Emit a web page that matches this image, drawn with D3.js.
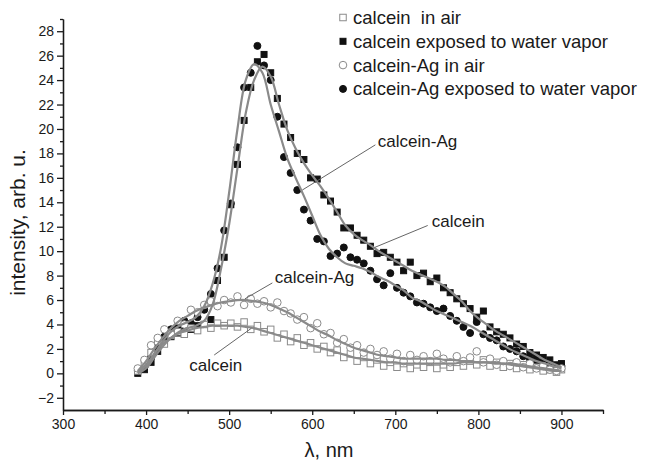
<!DOCTYPE html>
<html>
<head>
<meta charset="utf-8">
<script src="https://cdnjs.cloudflare.com/ajax/libs/d3/7.8.5/d3.min.js"></script>
<style>
  body { margin: 0; background: #fff; }
  svg text { font-family: "Liberation Sans", Arial, sans-serif; fill: #1a1a1a; }
  .axis path, .axis line { stroke: #1a1a1a; stroke-width: 1.3; }
  .axis text { font-size: 14px; }
</style>
</head>
<body>
<div id="chart"></div>
<script>
// measured points (nm) shared by all four spectra
const wavelengths = [390, 398, 406, 414, 422, 430, 438, 446, 454, 462, 470, 478, 486, 494, 502, 510,
  518, 526, 534, 542, 550, 558, 566, 574, 582, 590, 598, 606, 614, 622, 630, 638, 646, 654, 662, 670,
  678, 686, 694, 702, 710, 718, 726, 734, 742, 750, 758, 766, 774, 782, 790, 798, 806, 814, 822, 830,
  838, 846, 854, 862, 870, 878, 886, 894, 900];

const calceinAir = [0.2, 0.8, 1.7, 2.6, 2.4, 3.1, 3.4, 3.2, 3.7, 3.5, 4.0, 3.7, 4.1, 3.9, 4.1, 3.8,
  4.2, 3.6, 3.9, 3.4, 3.6, 2.9, 3.2, 2.6, 2.9, 2.3, 2.5, 2.0, 2.2, 1.7, 1.9, 1.3, 1.6, 1.0, 1.3, 0.8,
  1.1, 0.6, 0.9, 0.5, 0.8, 0.4, 0.7, 0.5, 0.9, 0.4, 0.7, 0.5, 0.9, 0.6, 1.0, 0.7, 1.1, 0.6, 0.9, 0.5,
  0.8, 0.4, 0.7, 0.3, 0.5, 0.2, 0.3, 0.1, 0.3];

const calceinWater = [0.0, 0.3, 0.9, 1.8, 2.6, 3.0, 3.3, 3.7, 3.6, 3.9, 4.0, 4.4, 7.6, 9.5, 13.8, 17.1,
  20.7, 23.4, 25.5, 26.1, 24.6, 22.5, 20.4, 19.3, 18.0, 17.5, 16.0, 15.9, 14.6, 14.1, 13.2, 11.9, 11.9, 11.3, 10.9, 10.4,
  9.8, 9.9, 9.5, 9.1, 8.4, 9.1, 8.0, 8.2, 7.5, 7.8, 7.0, 6.6, 6.1, 5.7, 5.3, 4.6, 5.1, 3.8, 3.4, 3.2,
  2.9, 2.4, 2.2, 1.7, 1.5, 1.3, 1.1, 0.7, 0.8];

const calceinAgAir = [0.4, 1.1, 2.3, 2.9, 3.6, 3.2, 4.3, 4.0, 5.2, 5.0, 5.6, 5.9, 5.5, 6.0, 5.8, 6.3,
  5.6, 6.1, 5.7, 5.9, 5.4, 5.8, 5.1, 4.9, 4.4, 4.6, 3.7, 4.1, 3.2, 3.3, 2.5, 2.8, 2.1, 2.3, 1.7, 2.0,
  1.5, 1.8, 1.2, 1.6, 1.0, 1.5, 1.1, 1.4, 1.0, 1.6, 1.2, 0.9, 1.4, 1.0, 1.3, 1.8, 0.9, 1.2, 0.7, 1.0,
  0.6, 0.9, 0.5, 0.8, 0.4, 0.6, 0.3, 0.2, 0.4];

const calceinAgWater = [0.2, 0.5, 1.3, 2.3, 3.0, 3.6, 3.8, 4.3, 4.1, 4.6, 5.2, 6.5, 8.6, 11.7, 13.9, 18.5,
  23.4, 24.6, 26.8, 25.2, 24.0, 21.0, 17.7, 16.4, 15.0, 13.4, 12.5, 11.0, 10.8, 9.6, 9.8, 10.3, 9.5, 9.3, 9.0, 8.4,
  7.7, 7.2, 8.2, 7.0, 6.6, 6.3, 5.8, 5.7, 5.4, 5.1, 5.3, 4.7, 4.3, 3.8, 3.3, 4.2, 3.2, 2.9, 2.7, 2.2,
  2.0, 1.8, 1.4, 1.2, 1.0, 0.8, 0.5, 0.4, 0.6];

// smoothed fit curves (nm)
const fitWavelengths = [390, 400, 410, 420, 430, 440, 450, 460, 470, 480, 490, 500, 510, 520, 530, 540,
  550, 560, 570, 580, 590, 600, 610, 620, 630, 640, 650, 660, 670, 680, 690, 700, 710, 720, 730, 740,
  750, 760, 770, 780, 790, 800, 810, 820, 830, 840, 850, 860, 870, 880, 890, 900];

const fitCalceinAir = [0.1, 0.7, 1.6, 2.4, 2.9, 3.3, 3.5, 3.7, 3.8, 3.9, 3.9, 3.9, 3.9, 3.8, 3.7, 3.5,
  3.3, 3.1, 2.9, 2.7, 2.5, 2.3, 2.1, 1.9, 1.7, 1.5, 1.3, 1.2, 1.1, 1.0, 0.9, 0.9, 0.8, 0.8, 0.8, 0.8,
  0.8, 0.8, 0.8, 0.9, 0.9, 0.9, 0.9, 0.8, 0.8, 0.7, 0.6, 0.5, 0.4, 0.3, 0.2, 0.2];

const fitCalceinWater = [0.0, 0.4, 1.3, 2.2, 2.9, 3.4, 3.7, 3.9, 4.3, 5.6, 8.5, 12.2, 16.8, 21.3, 24.0, 25.1,
  24.3, 22.0, 19.9, 18.4, 17.2, 16.2, 15.3, 14.3, 13.2, 12.1, 11.4, 10.9, 10.5, 10.0, 9.6, 9.2, 8.8, 8.4, 8.1, 7.8,
  7.5, 7.1, 6.5, 5.9, 5.1, 4.5, 4.0, 3.5, 3.1, 2.7, 2.3, 1.9, 1.5, 1.1, 0.8, 0.5];

const fitCalceinAgAir = [0.2, 1.0, 2.0, 2.9, 3.7, 4.3, 4.7, 5.1, 5.4, 5.6, 5.8, 5.9, 6.0, 6.0, 5.9, 5.8,
  5.6, 5.3, 5.0, 4.6, 4.2, 3.8, 3.4, 3.1, 2.7, 2.4, 2.1, 1.9, 1.7, 1.5, 1.4, 1.3, 1.2, 1.2, 1.2, 1.2,
  1.2, 1.1, 1.1, 1.0, 1.0, 0.9, 0.9, 0.9, 0.8, 0.8, 0.7, 0.6, 0.5, 0.4, 0.3, 0.2];

const fitCalceinAgWater = [0.1, 0.6, 1.6, 2.6, 3.4, 3.9, 4.2, 4.6, 5.5, 7.3, 10.2, 14.8, 20.0, 24.0, 25.3, 24.6,
  22.0, 19.8, 17.6, 16.0, 14.5, 12.9, 11.3, 10.2, 9.5, 9.0, 8.8, 8.6, 8.3, 7.9, 7.6, 7.2, 6.8, 6.2, 5.9, 5.5,
  5.1, 4.8, 4.5, 4.2, 3.9, 3.5, 3.1, 2.7, 2.3, 1.9, 1.6, 1.3, 1.0, 0.8, 0.6, 0.4];

// axis ticks
const xTicks = [300, 400, 500, 600, 700, 800, 900];
const xMinorTicks = [350, 450, 550, 650, 750, 850, 950];
const yTicks = [-2, 0, 2, 4, 6, 8, 10, 12, 14, 16, 18, 20, 22, 24, 26, 28];
const yMinorTicks = [-1, 1, 3, 5, 7, 9, 11, 13, 15, 17, 19, 21, 23, 25, 27, 29];

// legend names
const seriesNames = ["calcein  in air", "calcein exposed to water vapor",
  "calcein-Ag in air", "calcein-Ag exposed to water vapor"];

// curve labels: text anchor [nm, intensity] and leader line [nm, intensity] -> [nm, intensity]
const labelTexts = ["calcein-Ag", "calcein", "calcein-Ag", "calcein"];
const labelAnchors = [[679, 18.5], [744, 12.0], [555, 7.4], [452, 0.2]];
const leaderStarts = [[676, 18.7], [739, 12.1], [552, 7.4], [482, 1.5]];
const leaderEnds = [[588, 15.0], [675, 10.3], [519, 6.1], [527, 3.7]];

class SpectraVis {
  constructor(_parentElement) {
    this.parentElement = _parentElement;

    // marker style for each spectrum, same order as the legend
    this.series = [
      { name: seriesNames[0], values: calceinAir, fit: fitCalceinAir, shape: "square", filled: false },
      { name: seriesNames[1], values: calceinWater, fit: fitCalceinWater, shape: "square", filled: true },
      { name: seriesNames[2], values: calceinAgAir, fit: fitCalceinAgAir, shape: "circle", filled: false },
      { name: seriesNames[3], values: calceinAgWater, fit: fitCalceinAgWater, shape: "circle", filled: true },
    ];

    this.initVis();
  }

  initVis() {
    let vis = this;

    vis.margin = { top: 19, right: 51, bottom: 51, left: 63 };
    vis.width = 654 - vis.margin.left - vis.margin.right;
    vis.height = 461 - vis.margin.top - vis.margin.bottom;

    vis.svg = d3
      .select("#" + vis.parentElement)
      .append("svg")
      .attr("width", 654)
      .attr("height", 461)
      .append("g")
      .attr("transform", "translate(" + vis.margin.left + "," + vis.margin.top + ")");

    vis.x = d3.scaleLinear().domain([300, 950]).range([0, vis.width]);
    vis.y = d3.scaleLinear().domain([-3, 29]).range([vis.height, 0]);

    // minor ticks first, then the labelled ones
    vis.svg
      .append("g")
      .attr("class", "axis")
      .attr("transform", "translate(0," + vis.height + ")")
      .call(d3.axisBottom(vis.x).tickValues(xMinorTicks).tickSize(4).tickSizeOuter(0).tickFormat(""));

    vis.svg
      .append("g")
      .attr("class", "axis")
      .attr("transform", "translate(0," + vis.height + ")")
      .call(d3.axisBottom(vis.x).tickValues(xTicks).tickSize(5).tickSizeOuter(0).tickPadding(4));

    vis.svg
      .append("g")
      .attr("class", "axis")
      .call(d3.axisLeft(vis.y).tickValues(yMinorTicks).tickSize(3).tickSizeOuter(0).tickFormat(""));

    vis.svg
      .append("g")
      .attr("class", "axis")
      .call(d3.axisLeft(vis.y).tickValues(yTicks).tickSize(6).tickSizeOuter(0).tickPadding(3));

    // Axis titles
    vis.svg
      .append("text")
      .attr("x", vis.width / 2 - 4)
      .attr("y", vis.height + 47)
      .attr("text-anchor", "middle")
      .style("font-size", "20px")
      .text("λ, nm");

    vis.svg
      .append("text")
      .attr("transform", "rotate(-90)")
      .attr("x", -(vis.height / 2 + 8))
      .attr("y", -38)
      .attr("text-anchor", "middle")
      .style("font-size", "21px")
      .text("intensity, arb. u.");

    vis.updateVis();
  }

  updateVis() {
    let vis = this;

    // filled markers below, open markers over them
    let drawOrder = [vis.series[1], vis.series[3], vis.series[0], vis.series[2]];

    drawOrder.forEach((s) => {
      let points = wavelengths.map((w, i) => ({ w: w, v: s.values[i] }));
      let g = vis.svg.append("g");
      vis.drawMarkers(g, points, s);
    });

    // Fit curves on top
    let line = d3
      .line()
      .x((d) => vis.x(d.w))
      .y((d) => vis.y(d.v))
      .curve(d3.curveCatmullRom);

    vis.series.forEach((s) => {
      vis.svg
        .append("path")
        .datum(fitWavelengths.map((w, i) => ({ w: w, v: s.fit[i] })))
        .attr("fill", "none")
        .attr("stroke", "#8a8a8a")
        .attr("stroke-width", 2.2)
        .attr("d", line);
    });

    // Curve labels with leader lines
    labelTexts.forEach((t, i) => {
      vis.svg
        .append("line")
        .attr("x1", vis.x(leaderStarts[i][0]))
        .attr("y1", vis.y(leaderStarts[i][1]))
        .attr("x2", vis.x(leaderEnds[i][0]))
        .attr("y2", vis.y(leaderEnds[i][1]))
        .attr("stroke", "#666")
        .attr("stroke-width", 1);

      vis.svg
        .append("text")
        .attr("x", vis.x(labelAnchors[i][0]))
        .attr("y", vis.y(labelAnchors[i][1]))
        .style("font-size", "17px")
        .text(t);
    });

    // Legend
    let legend = vis.svg.append("g").attr("transform", "translate(280,-1.5)");

    vis.series.forEach((s, i) => {
      let row = legend.append("g").attr("transform", "translate(0," + i * 23.8 + ")");
      vis.drawMarkers(row, [{ lx: 0, ly: 0 }], s, true);
      row
        .append("text")
        .attr("x", 10)
        .attr("y", 6.5)
        .attr("xml:space", "preserve")
        .style("font-size", "18.5px")
        .style("white-space", "pre")
        .text(s.name);
    });
  }

  drawMarkers(g, points, s, isLegend) {
    let vis = this;
    let px = (d) => (isLegend ? d.lx : vis.x(d.w));
    let py = (d) => (isLegend ? d.ly : vis.y(d.v));
    let fill = s.filled ? "#111" : "#fff";
    let stroke = s.filled ? "#111" : "#8a8a8a";

    if (s.shape === "square") {
      let size = s.filled ? 6 : 6.5;
      g.selectAll("rect")
        .data(points)
        .join("rect")
        .attr("x", (d) => px(d) - size / 2)
        .attr("y", (d) => py(d) - size / 2)
        .attr("width", size)
        .attr("height", size)
        .attr("fill", fill)
        .attr("stroke", stroke)
        .attr("stroke-width", 1);
    } else {
      g.selectAll("circle")
        .data(points)
        .join("circle")
        .attr("cx", px)
        .attr("cy", py)
        .attr("r", s.filled ? 3.5 : 3.8)
        .attr("fill", fill)
        .attr("stroke", stroke)
        .attr("stroke-width", 1);
    }
  }
}

new SpectraVis("chart");
</script>
</body>
</html>
